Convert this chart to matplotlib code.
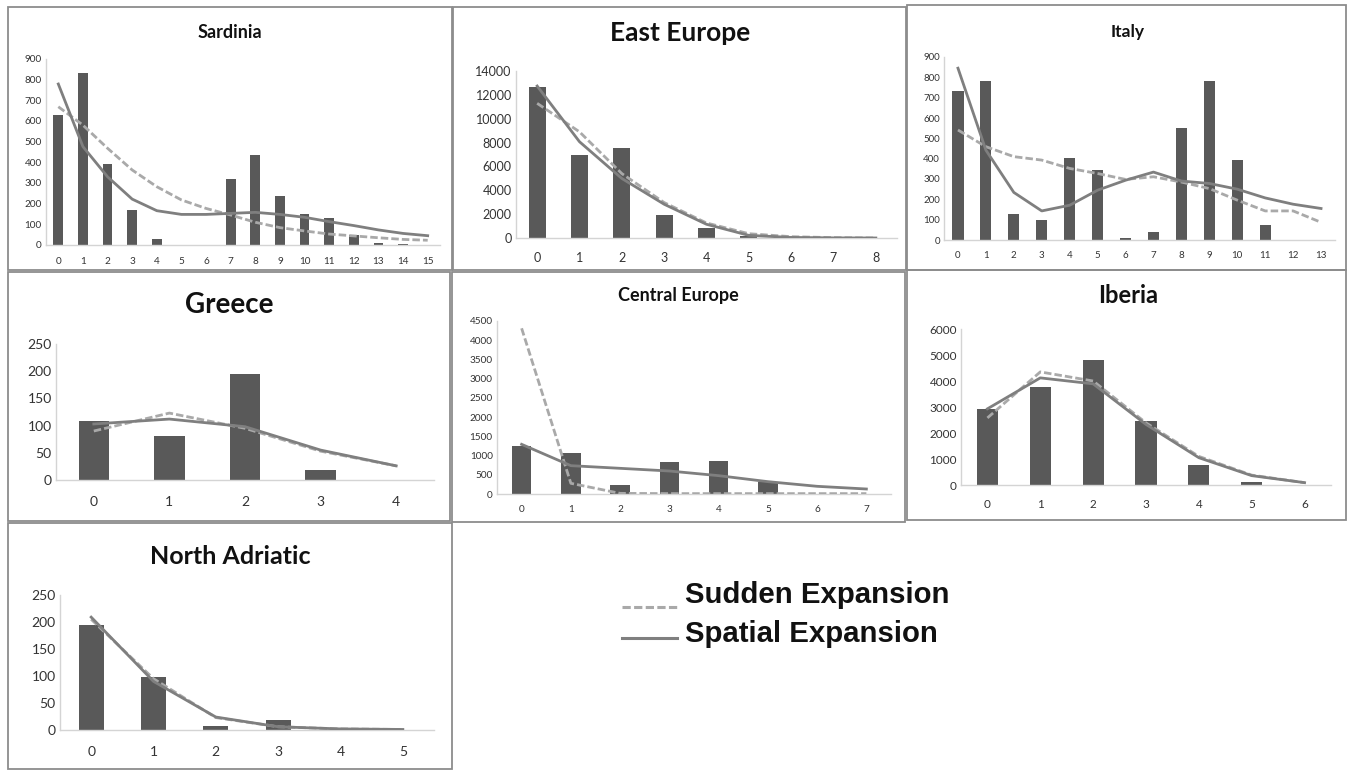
import numpy as np
import matplotlib
matplotlib.use("Agg")
import matplotlib.pyplot as plt
from matplotlib.patches import Rectangle
from matplotlib.lines import Line2D

W, H = 1348, 770

# observed bars, sudden expansion fit, spatial expansion fit
sardinia_obs = [629, 834, 390, 171, 31, 0, 0, 318, 434, 237, 150, 132, 48, 10, 5, 0]
sardinia_sud = [669, 580, 468, 363, 282, 218, 177, 145, 110, 84, 68, 53, 44, 35, 27, 23]
sardinia_spa = [779, 476, 330, 222, 166, 148, 148, 153, 158, 148, 134, 113, 94, 73, 56, 45]

east_obs = [12690, 7000, 7560, 1900, 840, 140, 0, 0, 0]
east_sud = [11290, 8900, 5400, 2970, 1260, 360, 110, 30, 0]
east_spa = [12740, 8070, 4990, 2830, 1150, 220, 50, 10, 0]

italy_obs = [735, 783, 130, 97, 403, 345, 12, 38, 553, 780, 391, 74, 0, 0]
italy_sud = [541, 459, 410, 393, 352, 327, 298, 311, 285, 253, 196, 143, 143, 87]
italy_spa = [845, 442, 234, 143, 171, 245, 294, 334, 290, 278, 250, 207, 176, 155]

greece_obs = [109, 80, 195, 18, 0]
greece_sud = [90, 123, 95, 53, 26]
greece_spa = [103, 112, 98, 55, 26]

central_obs = [1249, 1075, 234, 841, 867, 321, 0, 0]
central_sud = [4310, 278, 17, 10, 10, 10, 10, 10]
central_spa = [1292, 737, 668, 598, 477, 321, 200, 130]

iberia_obs = [2942, 3774, 4797, 2456, 780, 115, 0]
iberia_sud = [2580, 4350, 4000, 2390, 1100, 380, 90]
iberia_spa = [2930, 4120, 3890, 2330, 1050, 360, 90]

nadriatic_obs = [195, 99, 7, 19, 0, 0]
nadriatic_sud = [205, 95, 23, 6, 2, 1]
nadriatic_spa = [209, 90, 24, 6, 2, 1]

# name, obs, sud, spa, ymax, ystep, axes px box (x0, x1, ytop, ybot), title px (x, y), title size, tick size
panels = [
    ("Sardinia", sardinia_obs, sardinia_sud, sardinia_spa, 900, 100, (46, 440, 59, 245), (230, 32), 13, 7.2),
    ("East Europe", east_obs, east_sud, east_spa, 14000, 2000, (516, 897, 71, 238), (680, 33), 19, 9),
    ("Italy", italy_obs, italy_sud, italy_spa, 900, 100, (944, 1335, 57, 240), (1128, 32), 12.5, 7),
    ("Greece", greece_obs, greece_sud, greece_spa, 250, 50, (56, 434, 344, 480), (229, 305), 20, 10),
    ("Central Europe", central_obs, central_sud, central_spa, 4500, 500, (497, 891, 321, 494), (678, 295), 13, 7.2),
    ("Iberia", iberia_obs, iberia_sud, iberia_spa, 6000, 1000, (961, 1331, 329, 485), (1128, 295), 17, 8.5),
    ("North Adriatic", nadriatic_obs, nadriatic_sud, nadriatic_spa, 250, 50, (60, 434, 595, 730), (230, 556), 18, 10),
]

borders = [
    (8, 7, 452, 270), (453, 7, 906, 270), (907, 5, 1346, 270),
    (8, 272, 450, 521), (452, 272, 905, 522), (907, 270, 1346, 520),
    (8, 523, 452, 769),
]

bar_color = "#595959"
spa_color = "#7f7f7f"
sud_color = "#a9a9a9"
dash = (2.7, 1.1)

fig = plt.figure(figsize=(W / 100, H / 100), dpi=100)
fig.patch.set_facecolor("white")

for name, obs, sud, spa, ymax, ystep, box, tpos, tsize, ksize in panels:
    x0, x1, yt, yb = box
    ax = fig.add_axes([x0 / W, 1 - yb / H, (x1 - x0) / W, (yb - yt) / H])
    x = np.arange(len(obs))
    ax.bar(x, obs, width=0.4, color=bar_color, zorder=2)
    ax.plot(x, sud, color=sud_color, lw=2.0, ls=(0, dash), zorder=3)
    ax.plot(x, spa, color=spa_color, lw=2.0, zorder=4)
    ax.set_xlim(-0.5, len(obs) - 0.5)
    ax.set_ylim(0, ymax)
    ax.set_xticks(x)
    ax.set_yticks(np.arange(0, ymax + 1, ystep))
    for s in ["top", "right"]:
        ax.spines[s].set_visible(False)
    for s in ["left", "bottom"]:
        ax.spines[s].set_color("#d4d4d4")
        ax.spines[s].set_linewidth(1.0)
    ax.tick_params(length=0, colors="#333333", labelsize=ksize)
    ax.tick_params(axis="x", pad=ksize * 1.15)
    ax.tick_params(axis="y", pad=3)
    for lab in ax.get_xticklabels() + ax.get_yticklabels():
        lab.set_fontfamily("Lato")
    ax.patch.set_alpha(0)
    fig.text(tpos[0] / W, 1 - tpos[1] / H, name, ha="center", va="center",
             fontsize=tsize, fontweight="bold", family="Lato", color="#111111")

for bx0, by0, bx1, by1 in borders:
    fig.add_artist(Rectangle((bx0 / W, 1 - by1 / H), (bx1 - bx0) / W, (by1 - by0) / H,
                             transform=fig.transFigure, fill=False, ec="#8c8c8c", lw=1.3))

# legend
fig.add_artist(Line2D([622 / W, 677 / W], [1 - 607 / H, 1 - 607 / H], color=sud_color, lw=2.2,
                      ls=(0, dash), transform=fig.transFigure))
fig.add_artist(Line2D([622 / W, 677 / W], [1 - 638 / H, 1 - 638 / H], color=spa_color, lw=2.2,
                      transform=fig.transFigure))
fig.text(685 / W, 1 - 595 / H, "Sudden Expansion", ha="left", va="center", fontsize=21.2,
         fontweight="bold", family="Liberation Sans", color="#111111")
fig.text(685 / W, 1 - 634 / H, "Spatial Expansion", ha="left", va="center", fontsize=21.2,
         fontweight="bold", family="Liberation Sans", color="#111111")

fig.savefig("out.png", dpi=100, facecolor="white")
